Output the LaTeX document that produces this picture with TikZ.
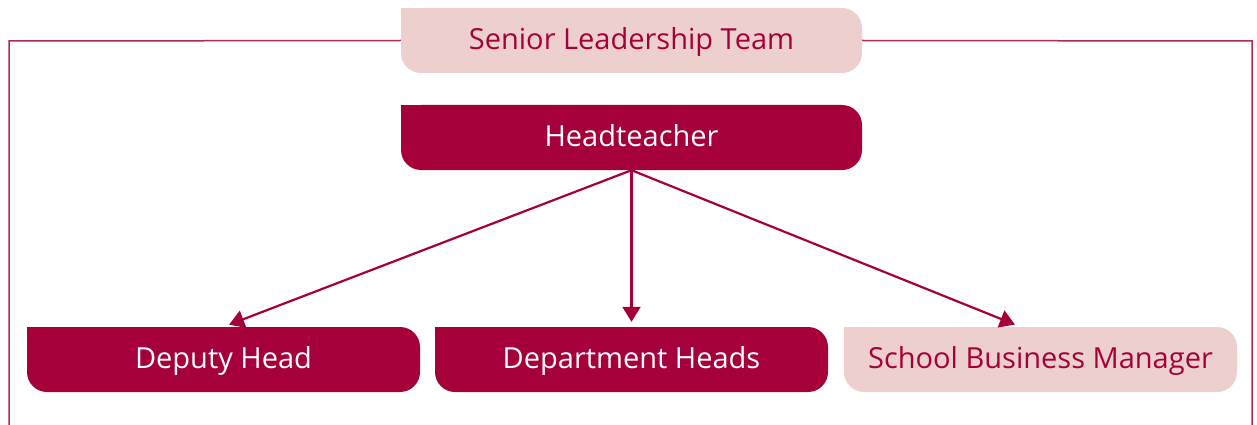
\documentclass[tikz,border=0pt]{standalone}
\usepackage{fontspec}
\setmainfont{Open Sans}
\usetikzlibrary{arrows.meta}
\definecolor{crim}{HTML}{A6003A}
\definecolor{blush}{HTML}{EDD0CE}
\definecolor{framec}{HTML}{B3285A}
\tikzset{
  box/.style={rectangle, minimum height=65pt, inner sep=0pt, text height=24pt, text depth=5.3pt,
    font=\fontsize{29}{33}\selectfont,
    path picture={
      \fill[#1, rounded corners=20pt] (path picture bounding box.north west) rectangle (path picture bounding box.south east);
      \fill[#1] (path picture bounding box.north west) rectangle ++(22pt,-22pt);
    }},
  darkbox/.style={box=crim, text=white},
  lightbox/.style={box=blush, text=crim},
  conn/.style={draw=crim, line width=2.2pt, -{Triangle[length=15pt,width=18pt]}},
  framel/.style={draw=framec, line width=1.5pt}
}
\begin{document}
\begin{tikzpicture}[x=1pt,y=-1pt]
\useasboundingbox (0,0) rectangle (1257,425);
\node[lightbox, minimum width=461pt] (slt) at (631.5,40.5) {Senior Leadership Team};
\node[darkbox, minimum width=461pt] (head) at (631.5,137.5) {Headteacher};
\node[darkbox, minimum width=393pt] (dep) at (223.5,359.5) {Deputy Head};
\node[darkbox, minimum width=393pt] (dept) at (631.5,359.5) {Department Heads};
\node[lightbox, minimum width=393pt] (sbm) at (1040.5,359.5) {School Business Manager};
\coordinate (fl) at (9,41);
\coordinate (flb) at (9,425);
\coordinate (fr) at (1252,41);
\coordinate (frb) at (1252,425);
\draw[framel] (slt.west) -- (fl) -- (flb);
\draw[framel] (slt.east) -- (fr) -- (frb);
\draw[conn, shorten >=6pt] (head.south) -- (dep.north);
\draw[conn, shorten >=5pt] (head.south) -- (dept.north);
\draw[conn, shorten >=6pt] (head.south) -- ([xshift=-20pt]sbm.north);
\end{tikzpicture}
\end{document}
